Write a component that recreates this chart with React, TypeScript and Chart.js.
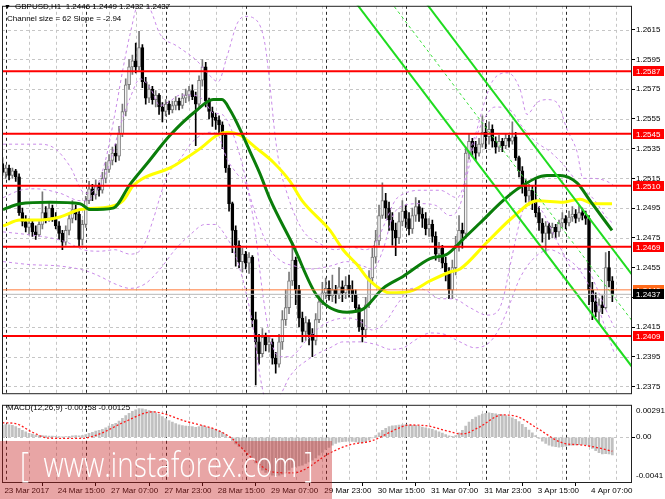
import React, { useEffect, useRef } from 'react';
import { Chart, registerables } from 'chart.js';

Chart.register(...registerables);

const FONT = '"Liberation Sans", Arial, sans-serif';

// ---------------- DATA ----------------
// GBPUSD H1, bar 0 = 23 Mar 23:00 ... bar 183 = last bar (4 Apr)
const FIRST_OPEN = 1.2525;
const CLOSE = [
  1.2519, 1.2522, 1.2517, 1.2520, 1.2516, 1.2492, 1.2486, 1.2482, 1.2485, 1.2479,
  1.2477, 1.2484, 1.2492, 1.2488, 1.2495, 1.2489, 1.2483, 1.2478, 1.2472, 1.2480,
  1.2488, 1.2494, 1.2491, 1.2474, 1.2484, 1.2500, 1.2508, 1.2504, 1.2510, 1.2507,
  1.2515, 1.2521, 1.2527, 1.2532, 1.2530, 1.2545, 1.2560, 1.2578, 1.2590, 1.2594,
  1.2590, 1.2603, 1.2580, 1.2569, 1.2575, 1.2568, 1.2571, 1.2563, 1.2560, 1.2565,
  1.2561, 1.2564, 1.2567, 1.2564, 1.2569, 1.2571, 1.2574, 1.2570, 1.2565, 1.2581,
  1.2590, 1.2567, 1.2560, 1.2556, 1.2554, 1.2551, 1.2544, 1.2522, 1.2498, 1.2480,
  1.2470, 1.2459, 1.2464, 1.2458, 1.2462, 1.2420, 1.2405, 1.2397, 1.2408, 1.2403,
  1.2405, 1.2394, 1.2390, 1.2405, 1.2420, 1.2428, 1.2446, 1.2460, 1.2440, 1.2421,
  1.2412, 1.2418, 1.2410, 1.2406, 1.2420, 1.2432, 1.2438, 1.2441, 1.2436, 1.2440,
  1.2437, 1.2442, 1.2438, 1.2443, 1.2440, 1.2437, 1.2428, 1.2415, 1.2413, 1.2430,
  1.2448, 1.2462, 1.2473, 1.2490, 1.2500, 1.2495, 1.2487, 1.2480, 1.2475, 1.2486,
  1.2493, 1.2488, 1.2481, 1.2490, 1.2496, 1.2491, 1.2488, 1.2481, 1.2484, 1.2476,
  1.2464, 1.2468, 1.2458, 1.2452, 1.2440, 1.2455, 1.2470, 1.2480, 1.2478, 1.2532,
  1.2540, 1.2536, 1.2532, 1.2538, 1.2546, 1.2543, 1.2548, 1.2540, 1.2536, 1.2540,
  1.2537, 1.2542, 1.2540, 1.2543, 1.2529, 1.2520, 1.2510, 1.2503, 1.2507, 1.2500,
  1.2492, 1.2485, 1.2478, 1.2483, 1.2478, 1.2482, 1.2479, 1.2485, 1.2488, 1.2485,
  1.2489, 1.2491, 1.2488, 1.2492, 1.2490, 1.2488, 1.2440, 1.2432, 1.2425, 1.2430,
  1.2428, 1.2455, 1.2446, 1.2437,
];
const HIGH = [
  1.2529, 1.2524, 1.2524, 1.2522, 1.2521, 1.2518, 1.2495, 1.2490, 1.2488, 1.2487,
  1.2483, 1.2486, 1.2506, 1.2496, 1.2499, 1.2497, 1.2492, 1.2486, 1.2480, 1.2483,
  1.2491, 1.2500, 1.2497, 1.2493, 1.2487, 1.2503, 1.2513, 1.2511, 1.2514, 1.2512,
  1.2519, 1.2526, 1.2531, 1.2536, 1.2538, 1.2550, 1.2565, 1.2582, 1.2595, 1.2598,
  1.2606, 1.2614, 1.2605, 1.2583, 1.2578, 1.2577, 1.2574, 1.2572, 1.2566, 1.2568,
  1.2567, 1.2567, 1.2570, 1.2569, 1.2572, 1.2575, 1.2577, 1.2578, 1.2573, 1.2584,
  1.2595, 1.2593, 1.2569, 1.2563, 1.2559, 1.2557, 1.2553, 1.2546, 1.2524, 1.2499,
  1.2483, 1.2473, 1.2468, 1.2466, 1.2465, 1.2463, 1.2425, 1.2410, 1.2414, 1.2411,
  1.2409, 1.2407, 1.2398, 1.2410, 1.2426, 1.2440, 1.2452, 1.2472, 1.2462, 1.2443,
  1.2425, 1.2422, 1.2420, 1.2414, 1.2424, 1.2436, 1.2445, 1.2448, 1.2446, 1.2450,
  1.2443, 1.2455, 1.2446, 1.2449, 1.2450, 1.2446, 1.2440, 1.2430, 1.2420, 1.2435,
  1.2453, 1.2468, 1.2480, 1.2497, 1.2512, 1.2505, 1.2499, 1.2492, 1.2485, 1.2492,
  1.2500, 1.2497, 1.2492, 1.2495, 1.2502, 1.2500, 1.2495, 1.2492, 1.2488, 1.2487,
  1.2479, 1.2472, 1.2470, 1.2462, 1.2455, 1.2460, 1.2476, 1.2490, 1.2485, 1.2536,
  1.2545, 1.2542, 1.2540, 1.2542, 1.2557, 1.2552, 1.2553, 1.2551, 1.2543, 1.2544,
  1.2542, 1.2545, 1.2544, 1.2553, 1.2546, 1.2530, 1.2523, 1.2514, 1.2511, 1.2510,
  1.2515, 1.2496, 1.2488, 1.2486, 1.2485, 1.2485, 1.2484, 1.2487, 1.2492, 1.2490,
  1.2493, 1.2496, 1.2494, 1.2497, 1.2495, 1.2493, 1.2490, 1.2445, 1.2438, 1.2434,
  1.2436, 1.2465, 1.2466, 1.2449,
];
const LOW = [
  1.2517, 1.2515, 1.2514, 1.2515, 1.2513, 1.2490, 1.2483, 1.2479, 1.2477, 1.2476,
  1.2474, 1.2476, 1.2481, 1.2485, 1.2486, 1.2486, 1.2481, 1.2474, 1.2467, 1.2470,
  1.2477, 1.2485, 1.2487, 1.2469, 1.2470, 1.2482, 1.2498, 1.2500, 1.2501, 1.2503,
  1.2505, 1.2512, 1.2519, 1.2524, 1.2526, 1.2527, 1.2543, 1.2557, 1.2575, 1.2585,
  1.2586, 1.2588, 1.2576, 1.2565, 1.2566, 1.2565, 1.2563, 1.2558, 1.2553, 1.2557,
  1.2558, 1.2559, 1.2561, 1.2561, 1.2562, 1.2566, 1.2567, 1.2568, 1.2537, 1.2563,
  1.2577, 1.2563, 1.2555, 1.2550, 1.2548, 1.2545, 1.2535, 1.2519, 1.2493, 1.2465,
  1.2456, 1.2455, 1.2452, 1.2454, 1.2451, 1.2415, 1.2376, 1.2390, 1.2395, 1.2399,
  1.2398, 1.2390, 1.2384, 1.2388, 1.2400, 1.2416, 1.2424, 1.2443, 1.2430, 1.2415,
  1.2405, 1.2406, 1.2403, 1.2395, 1.2403, 1.2418, 1.2430, 1.2434, 1.2433, 1.2432,
  1.2431, 1.2434, 1.2432, 1.2434, 1.2435, 1.2432, 1.2425, 1.2412, 1.2405, 1.2408,
  1.2428, 1.2444, 1.2458, 1.2470, 1.2488, 1.2488, 1.2480, 1.2470, 1.2463, 1.2471,
  1.2483, 1.2482, 1.2477, 1.2478, 1.2486, 1.2486, 1.2482, 1.2477, 1.2476, 1.2472,
  1.2460, 1.2459, 1.2455, 1.2446, 1.2434, 1.2434, 1.2450, 1.2466, 1.2468, 1.2477,
  1.2528, 1.2530, 1.2527, 1.2530, 1.2536, 1.2535, 1.2538, 1.2536, 1.2532, 1.2533,
  1.2533, 1.2535, 1.2536, 1.2538, 1.2527, 1.2516, 1.2505, 1.2499, 1.2497, 1.2494,
  1.2489, 1.2480, 1.2472, 1.2465, 1.2474, 1.2475, 1.2475, 1.2476, 1.2482, 1.2481,
  1.2483, 1.2486, 1.2485, 1.2486, 1.2487, 1.2484, 1.2430, 1.2420, 1.2422, 1.2418,
  1.2424, 1.2427, 1.2442, 1.2432,
];

// MACD(12,26,9) histogram per bar, in units of 0.00001
const MACD_UNIT = 0.00001;
const MACD_HIST = [
  110, 114, 112, 108, 95, 80, 62, 48, 36, 28,
  20, 15, 14, 12, 10, 10, 8, 6, 4, 5,
  8, 12, 14, 12, 16, 25, 35, 45, 55, 62,
  72, 85, 100, 115, 125, 145, 170, 195, 215, 232,
  245, 258, 255, 248, 240, 232, 220, 205, 185, 168,
  150, 135, 122, 112, 105, 100, 98, 96, 90, 95,
  105, 92, 85, 78, 70, 60, 45, 25, 0, -30,
  -60, -85, -105, -125, -145, -180, -230, -270, -295, -315,
  -330, -340, -345, -340, -330, -315, -295, -270, -262, -258,
  -250, -235, -220, -205, -185, -160, -135, -110, -90, -70,
  -55, -45, -40, -38, -36, -38, -42, -48, -50, -40,
  -25, -5, 15, 40, 62, 80, 95, 102, 105, 110,
  112, 112, 110, 108, 106, 100, 92, 85, 78, 70,
  60, 48, 38, 25, 12, 8, 15, 40, 62, 100,
  135, 160, 180, 195, 208, 215, 218, 215, 210, 205,
  200, 195, 185, 175, 160, 140, 115, 90, 65, 40,
  15, -10, -35, -55, -70, -80, -85, -88, -85, -80,
  -75, -70, -68, -66, -65, -66, -80, -100, -120, -138,
  -150, -148, -150, -158,
];
// signal line read at [bar, value in 0.00001]
const MACD_SIGNAL = [
  [0, 130], [4, 122], [9, 45], [14, -8], [24, -10], [29, 28], [37, 143], [45, 228],
  [55, 143], [65, 57], [69, -15], [75, -190], [81, -310], [87, -320], [99, -130],
  [104, -70], [111, -30], [118, 70], [122, 110], [128, 100], [133, 60], [138, 30],
  [143, 90], [150, 200], [154, 190], [160, 90], [168, -50], [174, -70], [178, -90],
  [183, -125],
];

// moving averages [bar, price]
const MA_GREEN = [
  [0.2, 1.2494], [5.3, 1.2498], [14.3, 1.2499], [23.3, 1.2498], [26.3, 1.2494], [33.2, 1.2495],
  [38.3, 1.2511], [43.4, 1.2525], [50.3, 1.2544], [58.4, 1.2561], [63.2, 1.2568], [65.9, 1.2568],
  [68.3, 1.2561], [71.3, 1.2548], [74.3, 1.2533], [77.3, 1.2518], [80.3, 1.2501], [87.2, 1.2470],
  [94.4, 1.2436], [103.4, 1.2425], [108.2, 1.2427], [114.2, 1.2441], [120.2, 1.2449], [128.3, 1.2461],
  [133.4, 1.2464], [138.2, 1.2474], [143.3, 1.2485], [150.2, 1.2500], [155.3, 1.2509], [163.4, 1.2517],
  [167.3, 1.2517], [172.4, 1.2512], [176.3, 1.2500], [182.9, 1.2480],
];
const MA_YELLOW = [
  [0.2, 1.2483], [5.3, 1.2487], [11.3, 1.2487], [17.3, 1.2489], [23.3, 1.2494], [32.3, 1.2496],
  [36.2, 1.2500], [39.2, 1.2510], [42.2, 1.2515], [50.3, 1.2522], [53.3, 1.2526], [59.3, 1.2535],
  [64.4, 1.2544], [67.4, 1.2546], [71.3, 1.2544], [76.4, 1.2535], [81.2, 1.2526], [86.3, 1.2513],
  [89.9, 1.2500], [98.3, 1.2480], [102.2, 1.2467], [106.4, 1.2457], [110.3, 1.2446], [116.3, 1.2438],
  [122.3, 1.2439], [128.3, 1.2446], [134.3, 1.2452], [137.3, 1.2454], [145.4, 1.2472], [153.2, 1.2489],
  [160.4, 1.2500], [168.2, 1.2499], [173.3, 1.2501], [177.2, 1.2498], [182.9, 1.2498],
];

// envelope bands (violet dashed) [bar, price]
const BAND_UPPER_OUTER = [
  [0.2, 1.2538], [11.3, 1.2538], [15.8, 1.2535], [20.3, 1.2523], [24.8, 1.2505], [27.8, 1.2508],
  [30.8, 1.2526], [33.8, 1.2559], [36.2, 1.2589], [38.3, 1.2612], [41.3, 1.2635], [44.3, 1.2629],
  [47.3, 1.2612], [52.4, 1.2604], [58.4, 1.2594], [62.3, 1.2584], [64.7, 1.2580], [67.4, 1.2597],
  [70.4, 1.2619], [72.8, 1.2624], [76.4, 1.2621], [78.8, 1.2605], [80.3, 1.2577], [81.8, 1.2544],
  [83.3, 1.2522], [85.4, 1.2505], [87.8, 1.2490], [90.8, 1.2478], [95.3, 1.2471], [99.8, 1.2467],
  [104.3, 1.2469], [108.8, 1.2467], [111.8, 1.2471], [114.8, 1.2485], [117.8, 1.2500], [120.8, 1.2505],
  [125.3, 1.2507], [131.3, 1.2507], [136.4, 1.2502], [138.2, 1.2509], [140.3, 1.2533], [142.4, 1.2548],
  [144.2, 1.2563], [147.2, 1.2581], [151.7, 1.2586], [155.3, 1.2575], [157.4, 1.2558], [160.4, 1.2566],
  [163.4, 1.2568], [166.4, 1.2566], [169.4, 1.2548], [172.4, 1.2533], [174.2, 1.2515], [177.2, 1.2515],
  [181.4, 1.2513], [183.5, 1.2510],
];
const BAND_UPPER_INNER = [
  [0.2, 1.2502], [5.3, 1.2507], [9.8, 1.2508], [17.3, 1.2505], [23.3, 1.2500], [26.9, 1.2502],
  [29.3, 1.2510], [32.3, 1.2526], [35.3, 1.2550], [38.3, 1.2569], [41.3, 1.2582], [44.3, 1.2576],
  [47.3, 1.2564], [50.3, 1.2567], [53.3, 1.2571], [57.2, 1.2571], [60.2, 1.2568], [63.2, 1.2559],
  [65.9, 1.2558], [68.3, 1.2550], [71.3, 1.2530], [74.3, 1.2503], [77.3, 1.2482], [80.3, 1.2467],
  [83.9, 1.2459], [87.8, 1.2456], [92.3, 1.2454], [98.3, 1.2456], [103.4, 1.2459], [108.2, 1.2456],
  [111.2, 1.2454], [114.2, 1.2467], [117.2, 1.2490], [120.8, 1.2497], [125.3, 1.2498], [129.8, 1.2497],
  [134.3, 1.2490], [137.3, 1.2497], [139.7, 1.2520], [141.8, 1.2540], [144.8, 1.2556], [147.8, 1.2563],
  [152.3, 1.2561], [155.9, 1.2550], [159.8, 1.2540], [164.3, 1.2533], [168.8, 1.2523], [173.3, 1.2510],
  [177.8, 1.2500], [180.8, 1.2490], [183.5, 1.2484],
];
const BAND_LOWER_INNER = [
  [0.2, 1.2479], [8.3, 1.2477], [14.3, 1.2475], [19.4, 1.2472], [24.2, 1.2467], [29.3, 1.2466],
  [33.8, 1.2467], [38.3, 1.2464], [42.2, 1.2469], [45.2, 1.2487], [48.2, 1.2509], [50.3, 1.2520],
  [53.3, 1.2528], [57.2, 1.2540], [62.3, 1.2546], [64.4, 1.2545], [67.4, 1.2528], [70.4, 1.2518],
  [73.4, 1.2509], [75.8, 1.2480], [77.9, 1.2441], [80.3, 1.2408], [83.3, 1.2395], [86.3, 1.2395],
  [90.8, 1.2405], [95.3, 1.2415], [99.8, 1.2420], [104.3, 1.2421], [107.9, 1.2418], [110.9, 1.2413],
  [114.8, 1.2418], [118.7, 1.2431], [122.9, 1.2441], [126.8, 1.2440], [131.3, 1.2434], [135.2, 1.2434],
  [140.3, 1.2428], [145.4, 1.2423], [148.4, 1.2425], [150.2, 1.2434], [152.3, 1.2456], [154.4, 1.2478],
  [155.9, 1.2492], [158.3, 1.2500], [162.2, 1.2492], [165.2, 1.2478], [168.2, 1.2465], [171.2, 1.2454],
  [175.4, 1.2454], [177.8, 1.2444], [180.8, 1.2428], [183.5, 1.2415],
];
const BAND_LOWER_OUTER = [
  [0.2, 1.2459], [8.3, 1.2457], [17.3, 1.2456], [24.8, 1.2453], [29.3, 1.2449], [33.8, 1.2444],
  [38.3, 1.2441], [42.8, 1.2444], [47.3, 1.2454], [51.8, 1.2467], [56.3, 1.2477], [60.8, 1.2484],
  [63.8, 1.2484], [66.8, 1.2477], [69.8, 1.2464], [72.8, 1.2441], [75.2, 1.2415], [77.3, 1.2382],
  [79.7, 1.2362], [83.3, 1.2369], [86.3, 1.2382], [92.3, 1.2394], [98.3, 1.2401], [102.2, 1.2405],
  [107.3, 1.2405], [112.4, 1.2403], [116.3, 1.2400], [120.2, 1.2401], [124.4, 1.2407], [128.3, 1.2411],
  [132.8, 1.2410], [137.3, 1.2405], [141.8, 1.2401], [146.3, 1.2405], [149.3, 1.2415], [152.3, 1.2431],
  [155.3, 1.2448], [159.8, 1.2462], [164.3, 1.2467], [168.8, 1.2462], [173.3, 1.2453], [177.8, 1.2434],
  [180.8, 1.2415], [183.5, 1.2398],
];

// regression channel (size 62, slope -2.94)
const CHANNEL_UPPER = [[120, 1.2654], [190, 1.2447]];
const CHANNEL_MIDDLE = [[110, 1.2653], [190, 1.2416]];
const CHANNEL_LOWER = [[100, 1.2651], [190, 1.2385]];

const LEVELS = [1.2587, 1.2545, 1.2510, 1.2469, 1.2409];
const ORANGE_LINE = 1.2440;
const LAST_PRICE = 1.2437;

const PRICE_TICKS = [1.2375, 1.2395, 1.2415, 1.2435, 1.2455, 1.2475, 1.2495, 1.2515, 1.2535, 1.2555, 1.2575, 1.2595, 1.2615];
const PRICE_MIN = 1.23698;
const PRICE_MAX = 1.26311;
const MACD_MIN = -0.0041;
const MACD_MAX = 0.00291;
const X_MIN = -0.12;
const X_MAX = 188.9;
const X_GRID = [0, 8, 16, 24, 32, 40, 48, 56, 64, 72, 80, 88, 96, 104, 112, 120, 128, 136, 144, 152, 160, 168, 176, 184];
const DAY_SEPARATORS = [1, 25, 49, 73, 97, 121, 145, 169];
const X_LABEL_IDX = [0, 16, 32, 48, 64, 80, 96, 112, 128, 144, 160, 176];
const X_LABELS = ['23 Mar 2017', '24 Mar 15:00', '27 Mar 07:00', '27 Mar 23:00', '28 Mar 15:00', '29 Mar 07:00', '29 Mar 23:00', '30 Mar 15:00', '31 Mar 07:00', '31 Mar 23:00', '3 Apr 15:00', '4 Apr 07:00'];

// ---------------- helpers ----------------
const toXY = (arr: number[][]) => arr.map(([x, y]) => ({ x, y }));
const OPEN = CLOSE.map((c, i) => (i === 0 ? FIRST_OPEN : CLOSE[i - 1]));
const bull = (i: number) => CLOSE[i] >= OPEN[i];

const lineDs = (data: any[], color: string, width: number, order: number, dash: number[] = [], tension = 0.4) => ({
  type: 'line',
  data,
  borderColor: color,
  borderWidth: width,
  borderDash: dash,
  pointRadius: 0,
  tension,
  cubicInterpolationMode: tension ? 'monotone' : 'default',
  fill: false,
  order,
});

const hLine = (v: number) => [{ x: X_MIN - 1, y: v }, { x: X_MAX + 1, y: v }];

function drawGrid(chart: any, hValues: number[]) {
  const { ctx, chartArea: a } = chart;
  const xs = chart.scales.x;
  const ys = chart.scales.y;
  ctx.save();
  ctx.beginPath();
  ctx.rect(a.left, a.top, a.right - a.left, a.bottom - a.top);
  ctx.clip();
  ctx.lineWidth = 1;
  ctx.setLineDash([3, 3]);
  ctx.strokeStyle = '#c6c6c6';
  ctx.beginPath();
  for (const v of hValues) {
    const y = Math.round(ys.getPixelForValue(v)) + 0.5;
    ctx.moveTo(a.left, y);
    ctx.lineTo(a.right, y);
  }
  for (const v of X_GRID) {
    const x = Math.round(xs.getPixelForValue(v)) + 0.5;
    ctx.moveTo(x, a.top);
    ctx.lineTo(x, a.bottom);
  }
  ctx.stroke();
  ctx.strokeStyle = '#2a2a2a';
  ctx.beginPath();
  for (const v of DAY_SEPARATORS) {
    const x = Math.round(xs.getPixelForValue(v)) + 0.5;
    ctx.moveTo(x, a.top);
    ctx.lineTo(x, a.bottom);
  }
  ctx.stroke();
  ctx.restore();
}

function drawFrame(chart: any) {
  const { ctx, chartArea: a } = chart;
  ctx.save();
  ctx.setLineDash([]);
  ctx.lineWidth = 1;
  ctx.strokeStyle = '#222';
  ctx.strokeRect(a.left + 0.5, a.top + 0.5, a.right - a.left - 1, a.bottom - a.top - 1);
  ctx.restore();
}

function drawTag(chart: any, v: number, bg: string, fg: string) {
  const { ctx, chartArea: a } = chart;
  const y = Math.round(chart.scales.y.getPixelForValue(v));
  ctx.save();
  ctx.fillStyle = bg;
  ctx.fillRect(a.right + 1, y - 5, 31, 10);
  ctx.fillStyle = fg;
  ctx.font = `8px ${FONT}`;
  ctx.textAlign = 'left';
  ctx.textBaseline = 'middle';
  ctx.fillText(v.toFixed(4), a.right + 4, y + 0.5);
  ctx.restore();
}

const mainPlugin = {
  id: 'mainPanel',
  beforeDatasetsDraw(chart: any) {
    drawGrid(chart, PRICE_TICKS);
  },
  afterDraw(chart: any) {
    drawFrame(chart);
    for (const l of LEVELS) drawTag(chart, l, '#ff0000', '#ffffff');
    drawTag(chart, ORANGE_LINE, '#ff6a1a', '#ffffff');
    drawTag(chart, LAST_PRICE, '#000000', '#ffffff');
  },
};

const macdPlugin = {
  id: 'macdPanel',
  beforeDatasetsDraw(chart: any) {
    drawGrid(chart, [0]);
  },
  afterDraw(chart: any) {
    drawFrame(chart);
    const { ctx, chartArea: a } = chart;
    ctx.save();
    ctx.fillStyle = '#000';
    ctx.font = `8px ${FONT}`;
    ctx.textAlign = 'left';
    ctx.textBaseline = 'middle';
    ctx.fillText(String(MACD_MAX), a.right + 4, a.top + 6);
    ctx.fillText(String(MACD_MIN), a.right + 4, a.bottom - 7);
    ctx.restore();
  },
};

const tickFont = { family: FONT, size: 8 };

function mainConfig(): any {
  const levelSets = LEVELS.map((l) => lineDs(hLine(l), '#ff0000', 2, 0, [], 0));
  return {
    type: 'bar',
    data: {
      datasets: [
        ...levelSets,
        lineDs(hLine(ORANGE_LINE), '#ff7a3a', 1, 0, [], 0),
        lineDs(hLine(LAST_PRICE), '#b8b8b8', 1, 0, [], 0),
        lineDs(toXY(CHANNEL_UPPER), '#1fdc1f', 2, 1, [], 0),
        lineDs(toXY(CHANNEL_MIDDLE), '#3ae03a', 1, 1, [3, 3], 0),
        lineDs(toXY(CHANNEL_LOWER), '#1fdc1f', 2, 1, [], 0),
        lineDs(toXY(MA_GREEN), '#0a7d0a', 3, 2),
        lineDs(toXY(MA_YELLOW), '#ffff00', 3, 2),
        lineDs(toXY(BAND_UPPER_OUTER), '#c98ae8', 1, 3, [3, 3]),
        lineDs(toXY(BAND_UPPER_INNER), '#c98ae8', 1, 3, [3, 3]),
        lineDs(toXY(BAND_LOWER_INNER), '#c98ae8', 1, 3, [3, 3]),
        lineDs(toXY(BAND_LOWER_OUTER), '#c98ae8', 1, 3, [3, 3]),
        {
          type: 'bar',
          data: CLOSE.map((c, i) => ({ x: i, y: [OPEN[i], c] })),
          backgroundColor: (ctx: any) => (bull(ctx.dataIndex) ? '#f4f4f4' : '#000000'),
          borderColor: (ctx: any) => (bull(ctx.dataIndex) ? '#777777' : '#000000'),
          borderWidth: 1,
          borderSkipped: false,
          barThickness: 3,
          minBarLength: 1,
          grouped: false,
          order: 4,
        },
        {
          type: 'bar',
          data: CLOSE.map((c, i) => ({ x: i, y: [LOW[i], HIGH[i]] })),
          backgroundColor: (ctx: any) => (bull(ctx.dataIndex) ? '#777777' : '#000000'),
          borderWidth: 0,
          barThickness: 1,
          minBarLength: 1,
          grouped: false,
          order: 5,
        },
      ],
    },
    options: {
      responsive: false,
      animation: false,
      devicePixelRatio: 1,
      events: [],
      layout: { padding: { left: 2, top: 1, right: 0, bottom: 2 } },
      plugins: { legend: { display: false }, tooltip: { enabled: false }, title: { display: false } },
      scales: {
        x: { type: 'linear', min: X_MIN, max: X_MAX, offset: false, display: false },
        y: {
          type: 'linear',
          position: 'right',
          min: PRICE_MIN,
          max: PRICE_MAX,
          afterBuildTicks: (s: any) => { s.ticks = PRICE_TICKS.map((v) => ({ value: v })); },
          afterFit: (s: any) => { s.width = 33; },
          grid: { display: true, drawOnChartArea: false, drawTicks: true, tickLength: 3, tickColor: '#000', color: 'transparent' },
          border: { display: false },
          ticks: { font: tickFont, color: '#000', padding: 1, callback: (v: any) => Number(v).toFixed(4) },
        },
      },
    },
    plugins: [mainPlugin],
  };
}

function macdConfig(): any {
  const labelAt = new Map(X_LABEL_IDX.map((v, i) => [v, X_LABELS[i]]));
  return {
    type: 'bar',
    data: {
      datasets: [
        lineDs(toXY(MACD_SIGNAL.map(([x, v]) => [x, v * MACD_UNIT])), '#ff1a1a', 1.3, 0, [2, 2]),
        {
          type: 'bar',
          data: MACD_HIST.map((v, i) => ({ x: i, y: v * MACD_UNIT })),
          backgroundColor: '#c0c0c0',
          borderWidth: 0,
          barThickness: 2,
          grouped: false,
          order: 1,
        },
      ],
    },
    options: {
      responsive: false,
      animation: false,
      devicePixelRatio: 1,
      events: [],
      layout: { padding: { left: 2, top: 2, right: 0, bottom: 0 } },
      plugins: { legend: { display: false }, tooltip: { enabled: false }, title: { display: false } },
      scales: {
        x: {
          type: 'linear',
          min: X_MIN,
          max: X_MAX,
          offset: false,
          afterBuildTicks: (s: any) => { s.ticks = X_GRID.map((v) => ({ value: v })); },
          afterFit: (s: any) => { s.height = 16; },
          grid: {
            display: true,
            drawOnChartArea: false,
            drawTicks: true,
            tickLength: 3,
            color: 'transparent',
            tickColor: (c: any) => (labelAt.has(c.tick && c.tick.value) ? '#000' : 'transparent'),
          },
          border: { display: false },
          ticks: {
            font: tickFont,
            color: '#000',
            align: 'start',
            padding: 0,
            labelOffset: 2,
            autoSkip: false,
            maxRotation: 0,
            minRotation: 0,
            callback: (v: any) => labelAt.get(Number(v)) ?? '',
          },
        },
        y: {
          type: 'linear',
          position: 'right',
          min: MACD_MIN,
          max: MACD_MAX,
          afterBuildTicks: (s: any) => { s.ticks = [{ value: 0 }]; },
          afterFit: (s: any) => { s.width = 33; },
          grid: { display: true, drawOnChartArea: false, drawTicks: true, tickLength: 3, tickColor: '#000', color: 'transparent' },
          border: { display: false },
          ticks: { font: tickFont, color: '#000', padding: 1, callback: (v: any) => Number(v).toFixed(2) },
        },
      },
    },
    plugins: [macdPlugin],
  };
}

export default function App() {
  const mainRef = useRef<HTMLCanvasElement>(null);
  const macdRef = useRef<HTMLCanvasElement>(null);

  useEffect(() => {
    const main = new Chart(mainRef.current as HTMLCanvasElement, mainConfig());
    const macd = new Chart(macdRef.current as HTMLCanvasElement, macdConfig());
    return () => {
      main.destroy();
      macd.destroy();
    };
  }, []);

  const txt: React.CSSProperties = {
    position: 'absolute',
    fontFamily: FONT,
    fontSize: 8,
    lineHeight: '10px',
    color: '#000',
    whiteSpace: 'pre',
  };

  return (
    <div style={{ position: 'absolute', left: 0, top: 0, width: 665, height: 499, background: '#fff', overflow: 'hidden' }}>
      <canvas ref={mainRef} width={665} height={400} style={{ position: 'absolute', left: 0, top: 0, width: 665, height: 400 }} />
      <canvas ref={macdRef} width={665} height={100} style={{ position: 'absolute', left: 0, top: 399, width: 665, height: 100 }} />
      <div style={{ ...txt, left: 4, top: 2, fontSize: 7 }}>▼</div>
      <div style={{ ...txt, left: 15, top: 2 }}>GBPUSD,H1  1.2446 1.2449 1.2432 1.2437</div>
      <div style={{ ...txt, left: 7, top: 14 }}>Channel size = 62 Slope = -2.94</div>
      <div style={{ ...txt, left: 7, top: 403 }}>MACD(12,26,9) -0.00158 -0.00125</div>
      <div style={{ position: 'absolute', left: 0, top: 441, width: 332, height: 58, background: 'rgba(198,30,30,0.4)' }} />
      <div
        style={{
          position: 'absolute',
          left: 20,
          top: 446,
          fontFamily: '"Open Sans", "Liberation Sans", sans-serif',
          fontWeight: 300,
          fontSize: 35,
          lineHeight: '36px',
          color: '#ffffff',
          whiteSpace: 'pre',
          transform: 'scaleX(0.8)',
          transformOrigin: 'left top',
        }}
      >
        [  www.instaforex.com ]
      </div>
    </div>
  );
}
